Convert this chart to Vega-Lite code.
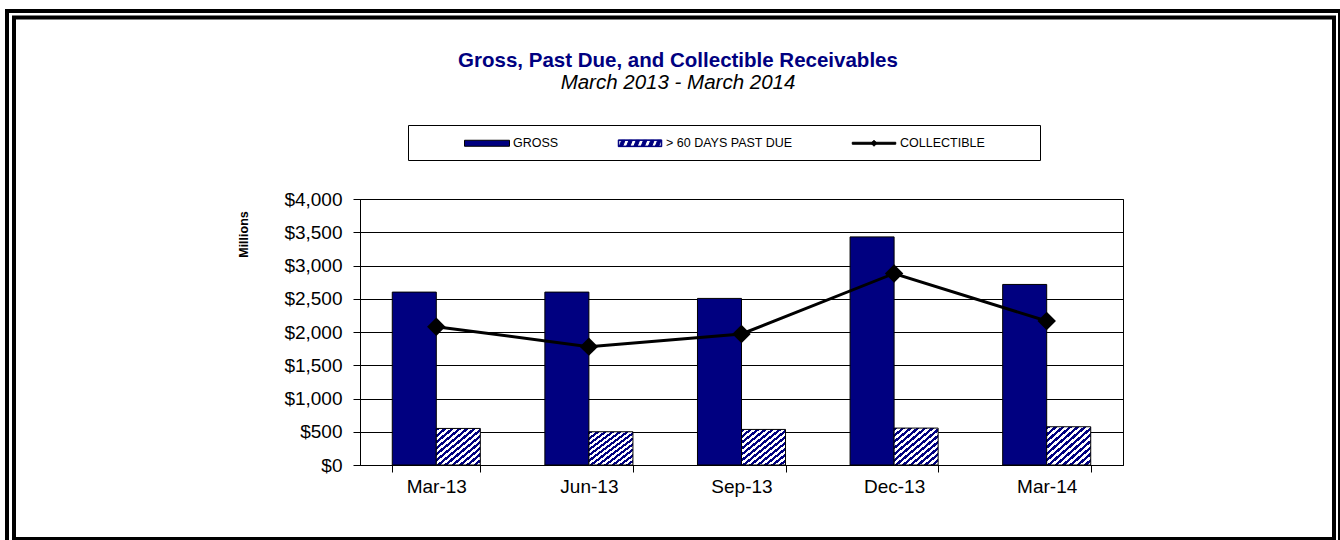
{
  "$schema": "https://vega.github.io/schema/vega-lite/v6.json",
  "width": 763,
  "height": 266,
  "autosize": {"type": "none"},
  "padding": {"left": 360, "top": 199, "right": 217, "bottom": 75},
  "background": "white",
  "config": {
    "font": "Liberation Sans",
    "view": {"stroke": "black", "strokeWidth": 1},
    "axis": {
      "domainColor": "black",
      "tickColor": "black",
      "labelColor": "black",
      "labelFont": "Liberation Sans",
      "titleFont": "Liberation Sans",
      "titleColor": "black"
    },
    "legend": {
      "titleOrient": "left",
      "titlePadding": 61,
      "orient": "none",
      "legendX": 48,
      "legendY": -74,
      "direction": "horizontal",
      "columns": 3,
      "columnPadding": 57,
      "padding": 10,
      "strokeColor": "black",
      "symbolSize": 225,
      "symbolStrokeWidth": 1,
      "symbolOpacity": 1,
      "labelOffset": 18,
      "labelFont": "Liberation Sans",
      "labelFontSize": 12.5,
      "labelColor": "black",
      "labelLimit": 400
    }
  },
  "title": {
    "text": "Gross, Past Due, and Collectible Receivables",
    "subtitle": "March 2013 - March 2014",
    "anchor": "middle",
    "dx": -63.5,
    "offset": -84,
    "font": "Liberation Sans",
    "fontSize": 20.5,
    "fontWeight": "bold",
    "color": "#000080",
    "subtitleFont": "Liberation Sans",
    "subtitleFontSize": 20.5,
    "subtitleFontStyle": "italic",
    "subtitleColor": "black",
    "subtitlePadding": 1
  },
  "data": {
    "values": [
      {"quarter": "Mar-13", "series": "GROSS", "value": 2600},
      {"quarter": "Mar-13", "series": "> 60 DAYS PAST DUE", "value": 550},
      {"quarter": "Mar-13", "series": "COLLECTIBLE", "value": 2080},
      {"quarter": "Jun-13", "series": "GROSS", "value": 2600},
      {"quarter": "Jun-13", "series": "> 60 DAYS PAST DUE", "value": 500},
      {"quarter": "Jun-13", "series": "COLLECTIBLE", "value": 1780},
      {"quarter": "Sep-13", "series": "GROSS", "value": 2505},
      {"quarter": "Sep-13", "series": "> 60 DAYS PAST DUE", "value": 535},
      {"quarter": "Sep-13", "series": "COLLECTIBLE", "value": 1970},
      {"quarter": "Dec-13", "series": "GROSS", "value": 3430},
      {"quarter": "Dec-13", "series": "> 60 DAYS PAST DUE", "value": 555},
      {"quarter": "Dec-13", "series": "COLLECTIBLE", "value": 2880},
      {"quarter": "Mar-14", "series": "GROSS", "value": 2715},
      {"quarter": "Mar-14", "series": "> 60 DAYS PAST DUE", "value": 575},
      {"quarter": "Mar-14", "series": "COLLECTIBLE", "value": 2165}
    ]
  },
  "encoding": {
    "x": {
      "field": "quarter",
      "type": "nominal",
      "sort": ["Mar-13", "Jun-13", "Sep-13", "Dec-13", "Mar-14"],
      "scale": {"paddingInner": 0.423, "paddingOuter": 0.2115},
      "axis": {
        "title": null,
        "labelAngle": 0,
        "tickBand": "extent",
        "tickSize": 7,
        "labelFontSize": 19,
        "labelPadding": 5
      }
    },
    "y": {
      "field": "value",
      "type": "quantitative",
      "scale": {"domain": [0, 4000]},
      "axis": {
        "values": [0, 500, 1000, 1500, 2000, 2500, 3000, 3500, 4000],
        "format": "$,.0f",
        "grid": true,
        "gridColor": "black",
        "gridOpacity": 1,
        "gridWidth": 1,
        "tickSize": 7,
        "labelFontSize": 19,
        "labelPadding": 11,
        "title": "Millions",
        "titleFontSize": 12.5,
        "titleFontWeight": "bold",
        "titleX": -110,
        "titleY": 35
      }
    }
  },
  "layer": [
    {
      "data": {"values": [{"frame": "outer"}]},
      "mark": {"type": "rect", "fill": "transparent", "stroke": "black", "strokeWidth": 4},
      "encoding": {
        "x": {"value": -353},
        "x2": {"value": 980},
        "y": {"value": -188},
        "y2": {"value": 347}
      }
    },
    {
      "data": {"values": [{"frame": "inner"}]},
      "mark": {"type": "rect", "fill": "transparent", "stroke": "black", "strokeWidth": 4},
      "encoding": {
        "x": {"value": -346},
        "x2": {"value": 974},
        "y": {"value": -181.5},
        "y2": {"value": 340}
      }
    },
    {
      "mark": {"type": "point", "filled": true, "opacity": 0, "strokeWidth": 1},
      "encoding": {
        "shape": {
          "field": "series",
          "type": "nominal",
          "scale": {
            "domain": ["GROSS", "> 60 DAYS PAST DUE", "COLLECTIBLE"],
            "range": [
              "M-3,-0.4H3V0.4H-3Z",
              "M-2.9,-0.45H2.9V0.45H-2.9ZM-2.83,-0.38V0.38H2.83V-0.38ZM-2.75,0.38L-2.3,0.38L-2,-0.38L-2.45,-0.38ZM-1.78,0.38L-1.33,0.38L-1.03,-0.38L-1.48,-0.38ZM-0.81,0.38L-0.36,0.38L-0.06,-0.38L-0.51,-0.38ZM0.16,0.38L0.61,0.38L0.91,-0.38L0.46,-0.38ZM1.13,0.38L1.58,0.38L1.88,-0.38L1.43,-0.38ZM2.05,0.38L2.5,0.38L2.8,-0.38L2.35,-0.38Z",
              "M-2.9,-0.13H2.9V0.13H-2.9ZM-0.4,0L0,-0.4L0.4,0L0,0.4Z"
            ]
          },
          "legend": {
            "title": "\u00a0",
            "labelExpr": "datum.label === 'COLLECTIBLE' ? 'COLLECTIBLE\u00a0\u00a0\u00a0\u00a0\u00a0\u00a0\u00a0\u00a0\u00a0\u00a0\u00a0\u00a0\u00a0\u200b' : datum.label"
          }
        },
        "fill": {
          "field": "series",
          "type": "nominal",
          "scale": {
            "domain": ["GROSS", "> 60 DAYS PAST DUE", "COLLECTIBLE"],
            "range": ["#000080", "#000080", "black"]
          },
          "legend": {
            "title": "\u00a0",
            "labelExpr": "datum.label === 'COLLECTIBLE' ? 'COLLECTIBLE\u00a0\u00a0\u00a0\u00a0\u00a0\u00a0\u00a0\u00a0\u00a0\u00a0\u00a0\u00a0\u00a0\u200b' : datum.label"
          }
        },
        "stroke": {
          "field": "series",
          "type": "nominal",
          "scale": {
            "domain": ["GROSS", "> 60 DAYS PAST DUE", "COLLECTIBLE"],
            "range": ["black", "#000080", "black"]
          },
          "legend": {
            "title": "\u00a0",
            "labelExpr": "datum.label === 'COLLECTIBLE' ? 'COLLECTIBLE\u00a0\u00a0\u00a0\u00a0\u00a0\u00a0\u00a0\u00a0\u00a0\u00a0\u00a0\u00a0\u00a0\u200b' : datum.label"
          }
        }
      }
    },
    {
      "transform": [{"filter": "datum.series === 'GROSS'"}],
      "mark": {"type": "bar", "fill": "#000080", "stroke": "black", "strokeWidth": 1},
      "encoding": {
        "xOffset": {
          "field": "series",
          "type": "nominal",
          "scale": {"domain": ["GROSS", "> 60 DAYS PAST DUE"], "paddingInner": 0, "paddingOuter": 0}
        }
      }
    },
    {
      "transform": [{"filter": "datum.series === '> 60 DAYS PAST DUE'"}],
      "mark": {
        "type": "bar",
        "stroke": "black",
        "strokeWidth": 1,
        "fill": {
          "gradient": "linear", "x1": 0, "y1": 0, "x2": 1, "y2": 1,
          "stops": [
            {"offset": 0, "color": "#000080"}, {"offset": 0.0417, "color": "#000080"},
            {"offset": 0.0417, "color": "white"}, {"offset": 0.0833, "color": "white"},
            {"offset": 0.0833, "color": "#000080"}, {"offset": 0.125, "color": "#000080"},
            {"offset": 0.125, "color": "white"}, {"offset": 0.1667, "color": "white"},
            {"offset": 0.1667, "color": "#000080"}, {"offset": 0.2083, "color": "#000080"},
            {"offset": 0.2083, "color": "white"}, {"offset": 0.25, "color": "white"},
            {"offset": 0.25, "color": "#000080"}, {"offset": 0.2917, "color": "#000080"},
            {"offset": 0.2917, "color": "white"}, {"offset": 0.3333, "color": "white"},
            {"offset": 0.3333, "color": "#000080"}, {"offset": 0.375, "color": "#000080"},
            {"offset": 0.375, "color": "white"}, {"offset": 0.4167, "color": "white"},
            {"offset": 0.4167, "color": "#000080"}, {"offset": 0.4583, "color": "#000080"},
            {"offset": 0.4583, "color": "white"}, {"offset": 0.5, "color": "white"},
            {"offset": 0.5, "color": "#000080"}, {"offset": 0.5417, "color": "#000080"},
            {"offset": 0.5417, "color": "white"}, {"offset": 0.5833, "color": "white"},
            {"offset": 0.5833, "color": "#000080"}, {"offset": 0.625, "color": "#000080"},
            {"offset": 0.625, "color": "white"}, {"offset": 0.6667, "color": "white"},
            {"offset": 0.6667, "color": "#000080"}, {"offset": 0.7083, "color": "#000080"},
            {"offset": 0.7083, "color": "white"}, {"offset": 0.75, "color": "white"},
            {"offset": 0.75, "color": "#000080"}, {"offset": 0.7917, "color": "#000080"},
            {"offset": 0.7917, "color": "white"}, {"offset": 0.8333, "color": "white"},
            {"offset": 0.8333, "color": "#000080"}, {"offset": 0.875, "color": "#000080"},
            {"offset": 0.875, "color": "white"}, {"offset": 0.9167, "color": "white"},
            {"offset": 0.9167, "color": "#000080"}, {"offset": 0.9583, "color": "#000080"},
            {"offset": 0.9583, "color": "white"}, {"offset": 1, "color": "white"}
          ]
        }
      },
      "encoding": {
        "xOffset": {
          "field": "series",
          "type": "nominal",
          "scale": {"domain": ["GROSS", "> 60 DAYS PAST DUE"], "paddingInner": 0, "paddingOuter": 0}
        }
      }
    },
    {
      "transform": [{"filter": "datum.series === 'COLLECTIBLE'"}],
      "mark": {"type": "line", "color": "black", "strokeWidth": 3}
    },
    {
      "transform": [{"filter": "datum.series === 'COLLECTIBLE'"}],
      "mark": {"type": "point", "shape": "diamond", "filled": true, "color": "black", "opacity": 1, "size": 340}
    }
  ]
}
